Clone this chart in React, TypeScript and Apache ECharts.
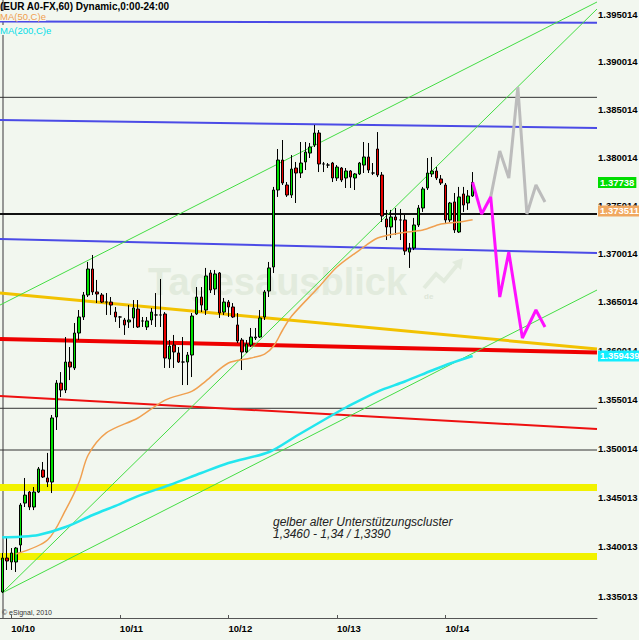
import React, { useEffect, useRef } from "react";
import * as echarts from "echarts";

const BG = "#f2f7ef";
const FONT = '"Liberation Sans", Arial, sans-serif';
const CATEGORY_COUNT = 132;
const X_MIN = -0.5;
const X_MAX = 131.5;
const Y_MIN = 1.3328;
const Y_MAX = 1.39649;

const dayLabels = ["10/10", "10/11", "10/12", "10/13", "10/14"];
const dayStartIdx = [2, 26, 50, 74, 98];

const yTickValues = [1.395014, 1.390014, 1.385014, 1.380014, 1.375014, 1.370014, 1.365014, 1.360014, 1.355014, 1.350014, 1.345013, 1.340013, 1.335013];
const yTickLabels = ["1.395014", "1.390014", "1.385014", "1.380014", "1.375014", "1.370014", "1.365014", "1.360014", "1.355014", "1.350014", "1.345013", "1.340013", "1.335013"];

// [open, close, low, high]
const candles = [
  [1.33542, 1.33885, 1.33532, 1.33936],
  [1.33885, 1.33855, 1.33764, 1.34098],
  [1.33845, 1.33936, 1.33764, 1.33986],
  [1.33845, 1.33986, 1.33744, 1.33996],
  [1.34017, 1.34422, 1.33936, 1.34442],
  [1.34442, 1.34523, 1.34402, 1.34697],
  [1.34554, 1.34402, 1.34371, 1.34564],
  [1.34402, 1.34554, 1.34371, 1.34605],
  [1.34554, 1.34789, 1.34544, 1.34809],
  [1.34778, 1.34707, 1.34697, 1.3486],
  [1.34697, 1.34656, 1.34605, 1.34952],
  [1.34656, 1.35309, 1.34544, 1.35339],
  [1.35319, 1.35666, 1.35186, 1.35697],
  [1.35666, 1.35595, 1.35523, 1.35779],
  [1.35595, 1.35882, 1.35564, 1.36139],
  [1.35882, 1.35831, 1.35697, 1.36036],
  [1.35821, 1.3618, 1.358, 1.36283],
  [1.3618, 1.36345, 1.36108, 1.36417],
  [1.36345, 1.36572, 1.36314, 1.36603],
  [1.36572, 1.3684, 1.36551, 1.36913],
  [1.3684, 1.36603, 1.36572, 1.36985],
  [1.36603, 1.36582, 1.36489, 1.36727],
  [1.36572, 1.36499, 1.36489, 1.36592],
  [1.36499, 1.36499, 1.36366, 1.36592],
  [1.36499, 1.36468, 1.36366, 1.36551],
  [1.36396, 1.36345, 1.36294, 1.36448],
  [1.36345, 1.36345, 1.36232, 1.36355],
  [1.36314, 1.36263, 1.3616, 1.36335],
  [1.36294, 1.36314, 1.36232, 1.36468],
  [1.36335, 1.36438, 1.36232, 1.3652],
  [1.36427, 1.36242, 1.36232, 1.3652],
  [1.36304, 1.36304, 1.36242, 1.36345],
  [1.36242, 1.36304, 1.36211, 1.36345],
  [1.36314, 1.36396, 1.36263, 1.36438],
  [1.36366, 1.36366, 1.36242, 1.36592],
  [1.36366, 1.36366, 1.36242, 1.36737],
  [1.36376, 1.35923, 1.35821, 1.36396],
  [1.35913, 1.36046, 1.35821, 1.36108],
  [1.36057, 1.35985, 1.35821, 1.3616],
  [1.35975, 1.35882, 1.35872, 1.36036],
  [1.35882, 1.35882, 1.35646, 1.36139],
  [1.35882, 1.35954, 1.35646, 1.35985],
  [1.35954, 1.36355, 1.35728, 1.36386],
  [1.36376, 1.36551, 1.36366, 1.36654],
  [1.36551, 1.36468, 1.36396, 1.36654],
  [1.36417, 1.36768, 1.36366, 1.36851],
  [1.36799, 1.36623, 1.36592, 1.3683],
  [1.36634, 1.36789, 1.36572, 1.3683],
  [1.36799, 1.36386, 1.36335, 1.36809],
  [1.36396, 1.36499, 1.36366, 1.36541],
  [1.36499, 1.36448, 1.36345, 1.3652],
  [1.36448, 1.36345, 1.36335, 1.36489],
  [1.36263, 1.36098, 1.36077, 1.36386],
  [1.36108, 1.35985, 1.358, 1.36129],
  [1.35985, 1.36067, 1.35975, 1.36108],
  [1.36057, 1.36139, 1.36036, 1.36232],
  [1.36129, 1.36139, 1.36108, 1.36232],
  [1.36139, 1.36335, 1.36129, 1.36417],
  [1.36345, 1.36603, 1.36314, 1.36623],
  [1.36613, 1.36851, 1.36551, 1.36913],
  [1.36861, 1.37659, 1.36799, 1.37691],
  [1.37659, 1.37971, 1.37587, 1.38086],
  [1.37971, 1.37732, 1.37711, 1.3818],
  [1.37711, 1.37607, 1.37587, 1.37742],
  [1.37607, 1.37877, 1.37576, 1.38023],
  [1.37888, 1.37836, 1.37524, 1.37951],
  [1.37836, 1.3794, 1.37784, 1.38159],
  [1.37951, 1.38054, 1.37867, 1.38159],
  [1.38044, 1.38107, 1.37992, 1.38149],
  [1.38128, 1.38253, 1.38107, 1.38337],
  [1.38253, 1.3793, 1.37846, 1.38284],
  [1.3793, 1.3793, 1.37846, 1.37951],
  [1.37919, 1.37919, 1.37888, 1.3794],
  [1.3794, 1.37784, 1.37742, 1.37951],
  [1.37784, 1.37898, 1.37753, 1.37919],
  [1.37888, 1.37763, 1.37742, 1.37898],
  [1.37784, 1.37857, 1.3768, 1.37888],
  [1.37857, 1.37794, 1.3768, 1.37867],
  [1.37784, 1.37826, 1.37659, 1.37836],
  [1.37826, 1.3794, 1.37815, 1.37951],
  [1.37919, 1.38003, 1.37836, 1.38159],
  [1.38003, 1.37867, 1.37836, 1.38149],
  [1.37836, 1.37836, 1.37815, 1.3794],
  [1.38086, 1.37815, 1.37794, 1.38263],
  [1.37815, 1.37389, 1.37327, 1.37846],
  [1.37358, 1.37275, 1.3714, 1.37452],
  [1.37275, 1.37379, 1.37161, 1.37452],
  [1.37379, 1.37348, 1.37192, 1.37472],
  [1.37348, 1.37348, 1.3714, 1.37462],
  [1.37348, 1.37026, 1.36985, 1.374],
  [1.37015, 1.37057, 1.36851, 1.37109],
  [1.37057, 1.37296, 1.37036, 1.37369],
  [1.37296, 1.37472, 1.37275, 1.37503],
  [1.37472, 1.3767, 1.37431, 1.37691],
  [1.3768, 1.37836, 1.37659, 1.37992],
  [1.37826, 1.37857, 1.37794, 1.38003],
  [1.37857, 1.37784, 1.37763, 1.37898],
  [1.37774, 1.37732, 1.37711, 1.37815],
  [1.37711, 1.37348, 1.37317, 1.37732],
  [1.37348, 1.37524, 1.37327, 1.37535],
  [1.37535, 1.37244, 1.37213, 1.37628],
  [1.37223, 1.37587, 1.37213, 1.37691],
  [1.37618, 1.37503, 1.37431, 1.37691],
  [1.37524, 1.37597, 1.37452, 1.37659],
  [1.37597, 1.37738, 1.37587, 1.37846],
];

// [candle index, value]
const ma50 = [
  [3, 1.33926], [10, 1.34067], [14, 1.34371], [17, 1.34656], [19, 1.34931], [23, 1.35156],
  [30, 1.35309], [36, 1.35492], [42, 1.35584], [45, 1.35687], [50, 1.35872], [55, 1.35923],
  [58, 1.35964], [60, 1.36046], [62, 1.36211], [64, 1.36355], [70, 1.36654], [74, 1.36861],
  [79, 1.37036], [83, 1.37161], [88, 1.37213], [93, 1.37244], [97, 1.37306], [101, 1.37327],
  [104, 1.373511],
];
const ma200 = [
  [0, 1.34095], [4, 1.34101], [8, 1.34118], [14, 1.34199], [20, 1.34321], [26, 1.34432],
  [30, 1.34513], [37, 1.34626], [44, 1.34748], [50, 1.3485], [59, 1.34962], [65, 1.35125],
  [73, 1.35339], [76, 1.35416], [83, 1.35579], [89, 1.35682], [95, 1.35795], [99, 1.35867],
  [104, 1.359439],
];

const lastClose = 1.37738;
const lastMa50 = 1.373511;
const lastMa200 = 1.359439;

const blackLevels = [1.38626, 1.3741, 1.35408, 1.34982];
const supportBands = [1.346, 1.339];
// [value at left edge, value at right edge]
const blueLines = [
  [1.39422, 1.3941],
  [1.38389, 1.38305],
  [1.37151, 1.37006],
];
const redThick = [1.36119, 1.3598];
const redThin = [1.35533, 1.35196];
const goldLine = [1.36592, 1.36016];
const greenChannelUpper = [1.36468, 1.39628];
// lines starting at the first candle's low
const greenFromLowA = [1.33532, 1.36623];
const greenFromLowB = [1.33532, 1.39554];

const magentaPath = [
  [104, 1.37738], [106, 1.3741], [108, 1.37587], [110, 1.36551], [112, 1.37015],
  [115, 1.36129], [118, 1.36417], [120, 1.36242],
];
const grayPath = [
  [108, 1.37587], [110, 1.38065], [112, 1.37784], [114, 1.38734], [116, 1.3741],
  [118, 1.37711], [120, 1.37535],
];

const titleText = "(EUR A0-FX,60) Dynamic,0:00-24:00";
const ma50Text = "MA(50,C)e";
const ma200Text = "MA(200,C)e";
const noteLines = ["gelber alter Unterstützungscluster", "1,3460 - 1,34 / 1,3390"];

const categories = Array.from({ length: CATEGORY_COUNT }, (_, i) => String(i));

function lineSeries(name: string, data: number[][], color: string, width: number, z: number) {
  return {
    type: "line",
    name,
    xAxisIndex: 1,
    yAxisIndex: 0,
    data,
    symbol: "none",
    silent: true,
    z,
    lineStyle: { color, width },
  };
}

function edgeLine(name: string, ends: number[], color: string, width: number, z: number, startX = X_MIN) {
  return lineSeries(name, [[startX, ends[0]], [X_MAX, ends[1]]], color, width, z);
}

const priceLabel = (bg: string) => ({
  position: "end",
  distance: 1,
  color: "#ffffff",
  fontSize: 9.5,
  fontWeight: "bold",
  fontFamily: FONT,
  backgroundColor: bg,
  padding: [1, 2, 0, 2],
});

export default function App() {
  const ref = useRef<HTMLDivElement>(null);

  useEffect(() => {
    if (!ref.current) return;
    const chart = echarts.init(ref.current, undefined, { renderer: "svg" });
    const isDay = (i: number) => dayStartIdx.includes(i);
    const transparentLine = { color: "rgba(0,0,0,0)", width: 0 };

    const series: any[] = [];

    blackLevels.forEach((v, i) => {
      series.push(
        lineSeries("level" + i, [[X_MIN, v], [X_MAX, v]], i === 1 ? "#111" : "#333", i === 1 ? 2 : 1, 1)
      );
    });
    supportBands.forEach((v, i) => {
      series.push(lineSeries("band" + i, [[X_MIN, v], [X_MAX, v]], "#f2f200", 7, 1));
    });
    blueLines.forEach((ends, i) => series.push(edgeLine("blue" + i, ends, "#4b4be6", 2, 1)));
    series.push(edgeLine("redThin", redThin, "#ee1010", 2, 1));
    series.push(edgeLine("gold", goldLine, "#f2c200", 3, 1));
    series.push(edgeLine("redThick", redThick, "#ee0000", 4, 1));
    series.push(edgeLine("greenUpper", greenChannelUpper, "#44dd44", 1, 1));
    series.push(edgeLine("greenA", greenFromLowA, "#44dd44", 1, 1, -0.06));
    series.push(edgeLine("greenB", greenFromLowB, "#44dd44", 1, 1, -0.06));

    // axis tick labels (drawn first so the price boxes lie over them)
    series.push({
      type: "line",
      name: "ticks",
      xAxisIndex: 1,
      yAxisIndex: 0,
      data: [],
      silent: true,
      z: 2,
      markLine: {
        silent: true,
        precision: 6,
        z: 5,
        symbol: ["none", "none"],
        lineStyle: transparentLine,
        label: {
          position: "end",
          distance: 1,
          color: "#000",
          fontSize: 9.5,
          fontWeight: "bold",
          fontFamily: FONT,
        },
        data: yTickValues.map((v, i) => ({ yAxis: v, label: { formatter: yTickLabels[i] } })),
      },
    });

    series.push({
      type: "candlestick",
      name: "EUR",
      xAxisIndex: 0,
      yAxisIndex: 0,
      data: candles,
      barWidth: 3,
      z: 3,
      itemStyle: {
        color: "#00e000",
        color0: "#e80000",
        borderColor: "#000",
        borderColor0: "#000",
        borderWidth: 1,
      },
      markLine: {
        silent: true,
        precision: 6,
        z: 7,
        symbol: ["none", "none"],
        lineStyle: transparentLine,
        data: [{ yAxis: lastClose, label: { ...priceLabel("#00dd00"), formatter: "1.37738" } }],
      },
    });

    series.push({
      ...lineSeries("MA50", ma50, "#f0a050", 1.5, 4),
      smooth: 0.3,
      markLine: {
        silent: true,
        precision: 6,
        z: 7,
        symbol: ["none", "none"],
        lineStyle: transparentLine,
        // label box is drawn slightly above the value, as in the source chart
        data: [{ yAxis: 1.37441, label: { ...priceLabel("#f0a860"), formatter: String(lastMa50) } }],
      },
    });
    series.push({
      ...lineSeries("MA200", ma200, "#22e6ee", 2.5, 4),
      smooth: 0.3,
      markLine: {
        silent: true,
        precision: 6,
        z: 7,
        symbol: ["none", "none"],
        lineStyle: transparentLine,
        data: [{ yAxis: lastMa200, label: { ...priceLabel("#11eeff"), formatter: String(lastMa200) } }],
      },
    });

    series.push(lineSeries("projectionUp", grayPath, "#bcbcbc", 3, 5));
    series.push(lineSeries("projectionDown", magentaPath, "#ff10ff", 3, 5));

    chart.setOption({
      animation: false,
      backgroundColor: BG,
      grid: { left: 0, right: 42, top: 0, bottom: 22, containLabel: false, outerBoundsMode: "none" },
      xAxis: [
        {
          type: "category",
          data: categories,
          boundaryGap: true,
          axisLine: { show: true, onZero: false, lineStyle: { color: "#555", width: 1 } },
          axisTick: {
            show: true,
            inside: true,
            length: 3,
            alignWithLabel: true,
            interval: (i: number) => isDay(i),
            lineStyle: { color: "#555" },
          },
          axisLabel: {
            interval: (i: number) => isDay(i),
            formatter: (_v: string, i: number) => dayLabels[dayStartIdx.indexOf(i)] ?? "",
            align: "left",
            margin: 5,
            color: "#000",
            fontSize: 9.5,
            fontWeight: "bold",
            fontFamily: FONT,
          },
          splitLine: { show: false },
        },
        { type: "value", min: X_MIN, max: X_MAX, show: false },
      ],
      yAxis: {
        type: "log",
        logBase: 10,
        min: Y_MIN,
        max: Y_MAX,
        position: "right",
        axisLine: { show: true, lineStyle: { color: "#777", width: 1.5 } },
        axisTick: { show: false },
        axisLabel: { show: false },
        splitLine: { show: false },
      },
      graphic: [
        {
          type: "text",
          x: 148,
          y: 282,
          z: 0,
          silent: true,
          style: {
            text: "Tagesausblick",
            font: `bold 38px ${FONT}`,
            fill: "#e2ebdd",
            verticalAlign: "middle",
          },
        },
        {
          type: "polyline",
          z: 0,
          silent: true,
          shape: { points: [[424, 288], [436, 274], [444, 281], [458, 264]] },
          style: { stroke: "#e2ebdd", lineWidth: 4, fill: null },
        },
        {
          type: "polygon",
          z: 0,
          silent: true,
          shape: { points: [[452, 262], [463, 258], [461, 270]] },
          style: { fill: "#e2ebdd" },
        },
        {
          type: "text",
          x: 424,
          y: 296,
          z: 0,
          silent: true,
          style: { text: "de", font: `bold 8px ${FONT}`, fill: "#dde6d8", verticalAlign: "middle" },
        },
        {
          type: "text",
          x: 0,
          y: 6,
          z: 10,
          silent: true,
          style: {
            text: titleText,
            font: `bold 10px ${FONT}`,
            fill: "#000",
            verticalAlign: "middle",
          },
        },
        {
          type: "text",
          x: 0,
          y: 16,
          z: 10,
          silent: true,
          style: {
            text: ma50Text,
            font: `9.5px ${FONT}`,
            fill: "#f0a050",
            verticalAlign: "middle",
            backgroundColor: BG,
          },
        },
        {
          type: "text",
          x: 0,
          y: 30,
          z: 10,
          silent: true,
          style: {
            text: ma200Text,
            font: `9.5px ${FONT}`,
            fill: "#00dde8",
            verticalAlign: "middle",
            backgroundColor: BG,
          },
        },
        {
          type: "text",
          x: 273,
          y: 515.5,
          z: 10,
          silent: true,
          style: {
            text: noteLines.join("\n"),
            font: `italic 12px ${FONT}`,
            lineHeight: 12.5,
            fill: "#222",
            verticalAlign: "top",
          },
        },
        {
          type: "text",
          x: 2,
          y: 612,
          z: 10,
          silent: true,
          style: { text: "© eSignal, 2010", font: `7px ${FONT}`, fill: "#333", verticalAlign: "middle" },
        },
      ],
      series,
    });

    return () => chart.dispose();
  }, []);

  return (
    <div
      ref={ref}
      style={{ position: "fixed", left: 0, top: 0, width: 639, height: 640, background: BG }}
    />
  );
}
